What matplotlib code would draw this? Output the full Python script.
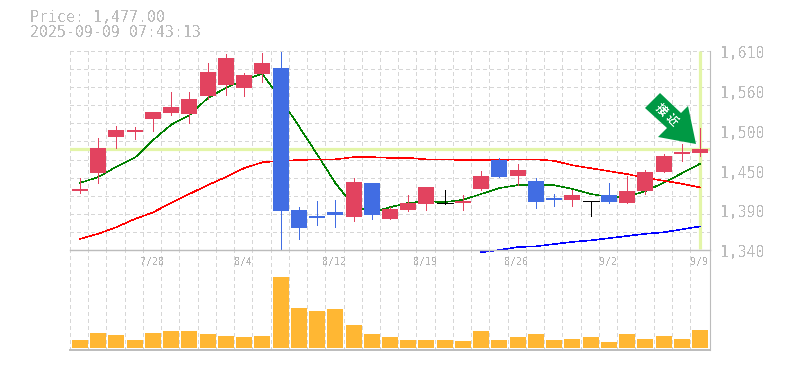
import numpy as np
import matplotlib
matplotlib.use("Agg")
import matplotlib.pyplot as plt
from matplotlib.patches import Polygon

# daily prices
opens = [1420, 1445, 1493, 1500, 1518, 1526, 1524, 1549, 1564, 1560, 1579, 1587, 1394, 1386, 1391, 1385, 1431, 1382,
         1394, 1402, 1404, 1404, 1423, 1462, 1440, 1434, 1410, 1408, 1406, 1415, 1404, 1420, 1446, 1470, 1472]
closes = [1423, 1478, 1503, 1503, 1527, 1534, 1545, 1581, 1600, 1577, 1594, 1393, 1370, 1384, 1387, 1432, 1387, 1396,
          1404, 1425, 1404, 1406, 1440, 1439, 1448, 1405, 1408, 1415, 1406, 1405, 1420, 1446, 1468, 1473, 1477]
highs = [1438, 1492, 1508, 1507, 1527, 1554, 1554, 1594, 1606, 1580, 1607, 1609, 1398, 1406, 1408, 1438, 1431, 1398,
         1415, 1425, 1421, 1415, 1447, 1465, 1457, 1438, 1416, 1421, 1406, 1431, 1440, 1448, 1470, 1484, 1505]
lows = [1417, 1431, 1478, 1491, 1501, 1523, 1512, 1545, 1550, 1549, 1568, 1340, 1355, 1374, 1371, 1379, 1382, 1382,
        1393, 1394, 1402, 1394, 1421, 1439, 1428, 1397, 1400, 1400, 1386, 1404, 1404, 1416, 1446, 1461, 1468]

ma_short = [1431, 1439, 1453, 1465, 1489, 1510, 1523, 1546, 1560, 1571, 1579, 1545, 1508, 1470, 1431, 1400, 1391, 1398,
            1404, 1406, 1405, 1408, 1416, 1424, 1428, 1428, 1428, 1423, 1416, 1412, 1412, 1420, 1431, 1444, 1457]
ma_mid = [1355, 1362, 1371, 1382, 1391, 1404, 1416, 1428, 1439, 1451, 1459, 1461, 1462, 1463, 1463, 1466, 1466, 1465,
          1465, 1463, 1463, 1462, 1462, 1462, 1463, 1463, 1461, 1455, 1451, 1447, 1443, 1438, 1434, 1430, 1425]
ma_long = [1337, 1340, 1344, 1345, 1348, 1351, 1353, 1356, 1359, 1362, 1364, 1368, 1372]
ma_long_start = 22

volumes = [8, 15, 13, 8, 15, 17, 17, 14, 12, 11, 12, 71, 40, 37, 39, 23, 14, 11,
           8, 8, 8, 7, 17, 8, 11, 14, 8, 9, 11, 6, 14, 9, 12, 9, 18]

date_pos = [4, 9, 14, 19, 24, 29, 34]
date_labels = ["7/28", "8/4", "8/12", "8/19", "8/26", "9/2", "9/9"]
price_ticks = [1610, 1556, 1502, 1448, 1394, 1340]
price_labels = ["1,610", "1,560", "1,500", "1,450", "1,390", "1,340"]
last_price = 1477

W, H = 785, 370
GRAY = "#bcbcbc"
GRID = "#d6d6d6"
RED = "#e2435f"
BLUE = "#416de3"
HILITE = "#e3f5a8"
MONO = "DejaVu Sans Mono"

plt.rcParams["font.family"] = [MONO, "Noto Sans CJK JP"]
plt.rcParams["text.antialiased"] = False

fig = plt.figure(figsize=(W / 100, H / 100), dpi=100)
ax = fig.add_axes([70 / W, 1 - 250 / H, 640 / W, 199 / H])
vol = fig.add_axes([70 / W, 1 - 350 / H, 640 / W, 100 / H])

x = np.arange(len(closes))
x0, x1 = -0.548, 34.55
grid_x = np.arange(36) + x0
grid_style = dict(color=GRID, lw=0.6, ls=(0, (3.6, 3.6)), zorder=0, antialiased=False)

for a in (ax, vol):
    a.set_xlim(x0, x1)
    a.set_xticks([])
    a.set_yticks([])
    a.patch.set_alpha(0)
    for s in a.spines.values():
        s.set_visible(False)
    for gx in grid_x[:-1]:
        a.axvline(gx, **grid_style)

ax.set_ylim(1340, 1610)
vol.set_ylim(-2, 98)

# price panel
for gy in np.linspace(1340, 1610, 12)[1:]:
    ax.axhline(gy, **grid_style)
ax.axhline(last_price, color=HILITE, lw=2.3, zorder=1)
ax.plot([x[-1], x[-1]], [1341, 1610], color=HILITE, lw=2.3, zorder=1, solid_capstyle="butt")

ax.plot(x, ma_short, color="#008000", lw=0.4, zorder=2, antialiased=False)
ax.plot(x, ma_mid, color="#ff0000", lw=0.4, zorder=2, antialiased=False)
ax.plot(x[ma_long_start:], ma_long, color="#0000ff", lw=0.4, zorder=2, clip_on=False, antialiased=False)

body_w = 16 / 18.235
for i in x:
    o, c = opens[i], closes[i]
    col = RED if c > o else BLUE if c < o else "black"
    ax.vlines(i, lows[i], highs[i], color=col, lw=0.6, zorder=3, antialiased=False)
    if c == o:
        ax.hlines(c, i - body_w / 2, i + body_w / 2, color=col, lw=0.6, zorder=3, antialiased=False)
    else:
        ax.bar(i, abs(c - o), bottom=min(o, c), width=body_w, color=col, lw=0, zorder=3)

# volume panel
vol.bar(x, volumes, width=body_w, color="#ffb733", lw=0, zorder=2)
vol.axhline(-2, color=GRAY, lw=1.4, clip_on=False)
vol.axhline(98, color=GRAY, lw=1.0, clip_on=False, zorder=4)
for a in (ax, vol):
    a.axvline(x1, color=GRAY, lw=0.8, clip_on=False)

for p, lab in zip(date_pos, date_labels):
    vol.text(p - 0.05, 85.5, lab, color="#b4b4b4", fontsize=7.2, ha="center", va="center", zorder=1)

for p, lab in zip(price_ticks, price_labels):
    ax.annotate(lab, xy=(1, p), xycoords=("axes fraction", "data"), xytext=(7.5, -2), textcoords="offset points",
                color=GRAY, fontsize=10.6, va="center", ha="left", annotation_clip=False)

fig.text(30 / W, 1 - 17.5 / H, "Price: 1,477.00", color=GRAY, fontsize=10.7, va="center")
fig.text(30 / W, 1 - 32.5 / H, "2025-09-09 07:43:13", color=GRAY, fontsize=10.7, va="center")

# signal arrow
arrow_px = [(645, 108), (660, 93), (681, 113), (688, 106), (696, 144), (658, 137), (667, 128)]
arrow = Polygon([(px / W, 1 - py / H) for px, py in arrow_px], closed=True, transform=fig.transFigure,
                facecolor="#009944", edgecolor="none", zorder=5)
fig.add_artist(arrow)
fig.text(661 / W, 1 - 110 / H, "接", color="white", fontsize=8.5, fontweight="bold", rotation=-45,
         ha="center", va="center", family=["Noto Sans CJK JP"], zorder=6)
fig.text(672 / W, 1 - 120 / H, "近", color="white", fontsize=8.5, fontweight="bold", rotation=-45,
         ha="center", va="center", family=["Noto Sans CJK JP"], zorder=6)

fig.savefig("out.png", dpi=100, facecolor="white")
